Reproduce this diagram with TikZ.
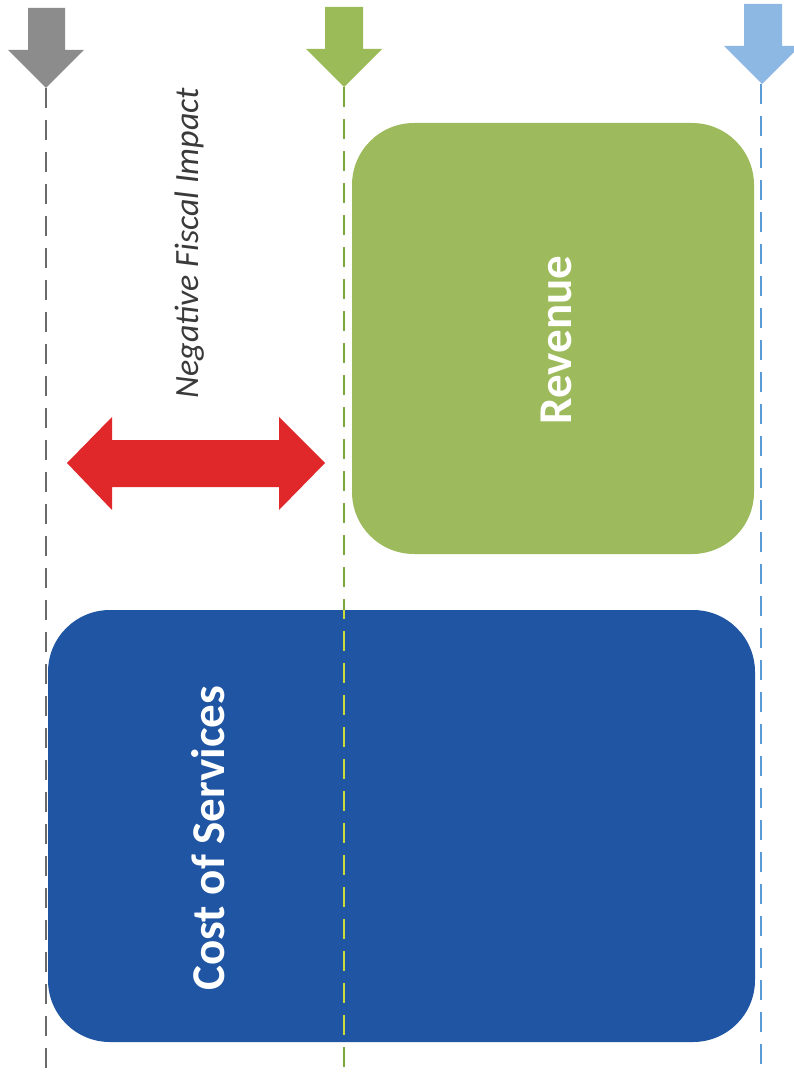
\documentclass[tikz,border=0pt]{standalone}
\usepackage{fontspec}
\setmainfont{Carlito}
\definecolor{grayarrow}{HTML}{8C8C8C}
\definecolor{grayline}{HTML}{6A6A6A}
\definecolor{greenarrow}{HTML}{9BBB59}
\definecolor{greenline}{HTML}{78A83A}
\definecolor{greenbox}{HTML}{9DBB5C}
\definecolor{bluearrow}{HTML}{8DB8E4}
\definecolor{blueline}{HTML}{5B9BD5}
\definecolor{bluebox}{HTML}{1F55A2}
\definecolor{redarrow}{HTML}{E0282A}
\definecolor{yellowline}{HTML}{C9DC3C}
\definecolor{textgray}{HTML}{3A3A3A}
\tikzset{
  guide/.style={line width=2pt, dash pattern=on 20pt off 12pt},
  box/.style={rounded corners=62pt, draw=none},
  boxlabel/.style={text=white, font=\fontsize{47}{50}\selectfont\bfseries, rotate=90, inner sep=0pt},
}
\begin{document}
\begin{tikzpicture}[x=1pt,y=-1pt]
\useasboundingbox (0,0) rectangle (793,1078);
\fill[white] (0,0) rectangle (793,1078);
% top arrows
\fill[grayarrow] (28,8) -- (65,8) -- (65,50) -- (84,50) -- (46,88) -- (8,50) -- (28,50) -- cycle;
\fill[greenarrow] (325,7) -- (363,7) -- (363,49) -- (382,49) -- (344,87) -- (306,49) -- (325,49) -- cycle;
\fill[bluearrow] (744,4) -- (782,4) -- (782,46) -- (800,46) -- (762,84) -- (724,46) -- (744,46) -- cycle;
\coordinate (gtop) at (46,88); \coordinate (gbot) at (46,1072);
\coordinate (ntop) at (344,87); \coordinate (nbot) at (344,1072);
\coordinate (btop) at (761,84); \coordinate (bbot) at (761,1072);
% guide lines
\draw[guide, grayline] (gtop) -- (gbot);
\draw[guide, greenline] (ntop) -- (nbot);
\draw[guide, blueline] (btop) -- (bbot);
% boxes
\node[box, fill=greenbox, minimum width=402pt, minimum height=431pt, inner sep=0pt] (rev) at (553,338.5) {};
\node[box, fill=bluebox, minimum width=707pt, minimum height=432pt, inner sep=0pt] (cost) at (401.5,826) {};
% green line over blue box
\begin{scope}
\clip (48,610) rectangle (755,1042);
\draw[guide, yellowline] (ntop) -- (nbot);
\end{scope}
\node[boxlabel] (revl) at (556,340) {Revenue};
\node[boxlabel] (costl) at (208,838) {Cost of Services};
% red double arrow
\fill[redarrow] (67,463) -- (112,417) -- (112,440) -- (279,440) -- (279,417) -- (325,463) -- (279,510) -- (279,487) -- (112,487) -- (112,510) -- cycle;
\node[rotate=90, text=textgray, font=\fontsize{34}{36}\selectfont\itshape, inner sep=0pt] (nfi) at (190,243) {Negative Fiscal Impact};
\end{tikzpicture}
\end{document}
